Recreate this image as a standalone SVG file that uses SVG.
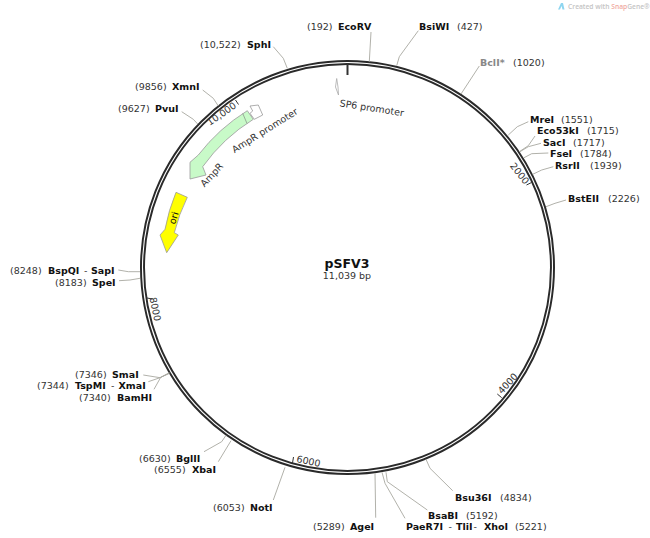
<svg xmlns="http://www.w3.org/2000/svg" width="650" height="538" viewBox="0 0 650 538">
<style>
text{font-family:"DejaVu Sans",Verdana,sans-serif;font-size:9.5px;fill:#333}
.b{font-weight:bold;fill:#111}
.g{font-weight:bold;fill:#888}
.c polyline{fill:none;stroke:#a8a8a0;stroke-width:0.9}
.t{stroke:#333;stroke-width:1;fill:none}
</style>
<rect width="650" height="538" fill="#fff"/>
<g id="watermark">
<path d="M558 9.500 L561 3 L563 3 L564.500 9.500 L562.500 9.500 L561.500 6 L560 9.500Z" fill="#8fd6f0"/>
<text x="568" y="8.500" style="font-family:'Open Sans',sans-serif;font-size:6.700px;font-weight:600;fill:#c4c4c4">Created with <tspan style="fill:#f0aaa0">Snap</tspan>Gene®</text>
</g>
<g id="backbone">
<circle cx="347.500" cy="267.500" r="205" fill="none" stroke="#2a2a2a" stroke-width="5"/>
<circle cx="347.500" cy="267.500" r="205" fill="none" stroke="#fff" stroke-width="1.100"/>
<line x1="347.500" y1="63" x2="347.500" y2="75" stroke="#333" stroke-width="2"/>
</g>
<g id="ticks">
<line class="t" x1="531.500" y1="182.500" x2="526.500" y2="185"/>
<line class="t" x1="501.700" y1="397.700" x2="497.300" y2="394"/>
<line class="t" x1="293.500" y1="457" x2="292.500" y2="463"/>
<line class="t" x1="147" y1="298" x2="152.500" y2="299"/>
<line class="t" x1="235.500" y1="100" x2="238.500" y2="104.500"/>
<text transform="translate(524.500 185) rotate(52)" text-anchor="end">2000</text>
<text transform="translate(502 394.500) rotate(-47)">4000</text>
<text transform="translate(296 462) rotate(12)">6000</text>
<text transform="translate(149.500 298) rotate(78)">8000</text>
<text transform="translate(237 107) rotate(-35)" text-anchor="end">10,000</text>
</g>
<g class="c" id="connectors">
<polyline points="273.300,46.700 283.300,58.300 287.300,68.300"/>
<polyline points="371,32 369.300,61.700"/>
<polyline points="418.300,30.700 399.300,56.700 396.700,65.700"/>
<polyline points="202.700,90 213.300,98.300 218.300,106"/>
<polyline points="181.700,111.700 193.300,119.300 197.700,124"/>
<polyline points="479.300,66 461,94"/>
<polyline points="528.300,121.700 517.300,126.700 508.300,135"/>
<polyline points="535,136 528.300,145.700 519.300,151.700"/>
<polyline points="541,143.300 528.300,146.700 520,151.700"/>
<polyline points="548.300,153 531.700,153.700 524,157.700"/>
<polyline points="553.300,166.700 541.700,170 532.700,174.300"/>
<polyline points="566,200 555,203.300 546,206.700"/>
<polyline points="118.300,270 128.300,271.700 140,271.700"/>
<polyline points="119,280.700 130,280 140,278.300"/>
<polyline points="143.300,375 160,377.700 169.300,372.700"/>
<polyline points="148.300,381.700 160,377.700 169.300,373.300"/>
<polyline points="154,389.300 160.700,377.300 169.300,373.300"/>
<polyline points="204,451.700 221.700,441.700 226,435.300"/>
<polyline points="218.300,461.700 231,440.700"/>
<polyline points="273.300,500 285,467.300"/>
<polyline points="375.700,517.700 375,473.300"/>
<polyline points="405,518.300 385,483.300 382,472.300"/>
<polyline points="427.300,510 387.300,481.700 386,472.300"/>
<polyline points="452.700,490.700 430,468.300 426,459.300"/>
</g>
<g id="AmpR">
<path d="M247.300 110.700 A186 186 0 0 0 198.300 155 L190 162.300 L190 179 L206 175 L202.700 166.700 A176 176 0 0 1 253.300 119.300Z" fill="#c8fac8" stroke="#999" stroke-width="0.8"/>
<line x1="242.700" y1="113.300" x2="247" y2="123.500" stroke="#777" stroke-width="0.6"/>
<text transform="translate(212 175) rotate(-47)" text-anchor="middle" dy="3">AmpR</text>
<text transform="translate(265 130.700) rotate(-32)" text-anchor="middle" dy="3">AmpR promoter</text>
</g>
<g id="AmpR-promoter">
<path d="M250 106 L258.300 105 L262.700 115 L254.300 119.300 L250 113.300 L252.700 111Z" fill="#fff" stroke="#999" stroke-width="0.8"/>
</g>
<g id="ori">
<path d="M176 192.300 L187.300 197.300 A175 175 0 0 0 174.300 232.700 L178.300 235 L166.700 252.700 L160 235 L165 229.300 A187 187 0 0 1 176 192.300Z" fill="#ff0" stroke="#999" stroke-width="0.8"/>
<text transform="translate(174 218) rotate(-73)" text-anchor="middle" dy="3" style="fill:#111">ori</text>
</g>
<g id="SP6">
<path d="M336.700 78.500 L335.500 87 L338.500 95 L338 87Z" fill="#fff" stroke="#aaa" stroke-width="0.8"/>
<text transform="translate(371.700 108.300) rotate(9)" text-anchor="middle" dy="3">SP6 promoter</text>
</g>
<g id="center">
<text x="347" y="268" text-anchor="middle" style="font-size:12.500px;font-weight:bold;fill:#111">pSFV3</text>
<text x="347" y="279" text-anchor="middle">11,039 bp</text>
</g>
<g id="labels">
<text x="200" y="47.500">(10,522)</text><text x="247" y="47.500" class="b">SphI</text>
<text x="307" y="30">(192)</text><text x="338" y="30" class="b">EcoRV</text>
<text x="419" y="30" class="b">BsiWI</text><text x="457" y="30">(427)</text>
<text x="480" y="65.500" class="g">BclI*</text><text x="513" y="65.500">(1020)</text>
<text x="135" y="90">(9856)</text><text x="172" y="90" class="b">XmnI</text>
<text x="118" y="111.500">(9627)</text><text x="155" y="111.500" class="b">PvuI</text>
<text x="530" y="122.500" class="b">MreI</text><text x="561" y="122.500">(1551)</text>
<text x="537" y="134" class="b">Eco53kI</text><text x="587" y="134">(1715)</text>
<text x="543" y="145.500" class="b">SacI</text><text x="573" y="145.500">(1717)</text>
<text x="550" y="157" class="b">FseI</text><text x="580" y="157">(1784)</text>
<text x="555" y="168.500" class="b">RsrII</text><text x="590" y="168.500">(1939)</text>
<text x="568" y="202" class="b">BstEII</text><text x="608" y="202">(2226)</text>
<text x="10" y="274">(8248)</text><text x="48" y="274" class="b">BspQI</text><text x="84" y="274">-</text><text x="91" y="274" class="b">SapI</text>
<text x="55" y="286">(8183)</text><text x="92" y="286" class="b">SpeI</text>
<text x="75" y="377.500">(7346)</text><text x="112" y="377.500" class="b">SmaI</text>
<text x="37" y="389">(7344)</text><text x="75" y="389" class="b">TspMI</text><text x="111" y="389">-</text><text x="118.500" y="389" class="b">XmaI</text>
<text x="79" y="400.500">(7340)</text><text x="117" y="400.500" class="b">BamHI</text>
<text x="139" y="461.500">(6630)</text><text x="176" y="461.500" class="b">BglII</text>
<text x="154" y="472.500">(6555)</text><text x="192" y="472.500" class="b">XbaI</text>
<text x="213" y="511">(6053)</text><text x="250" y="511" class="b">NotI</text>
<text x="313" y="530">(5289)</text><text x="350" y="530" class="b">AgeI</text>
<text x="455" y="500.500" class="b">Bsu36I</text><text x="500" y="500.500">(4834)</text>
<text x="428" y="518.500" class="b">BsaBI</text><text x="466" y="518.500">(5192)</text>
<text x="406" y="530" class="b">PaeR7I</text><text x="448.500" y="530">-</text><text x="456" y="530" class="b">TliI</text><text x="473.500" y="530">-</text><text x="484" y="530" class="b">XhoI</text><text x="515" y="530">(5221)</text>
</g>
</svg>
